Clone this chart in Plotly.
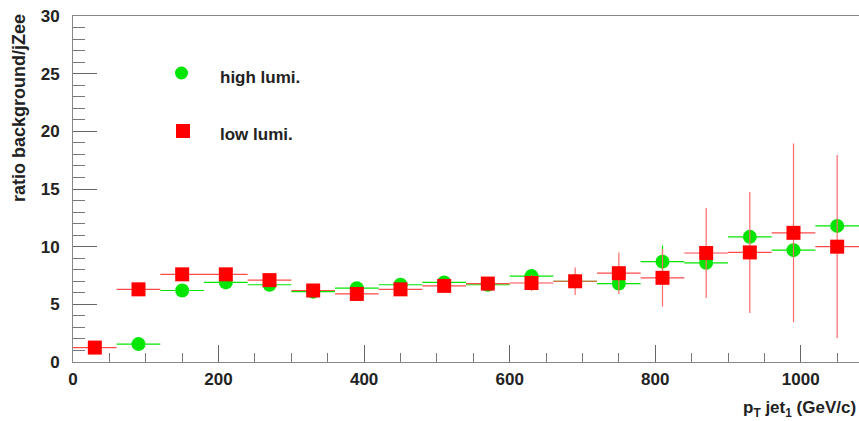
import plotly.graph_objects as go

# pT bin centres (GeV/c), 60 GeV wide bins
pt = [30, 90, 150, 210, 270, 330, 390, 450, 510, 570, 630, 690, 750, 810, 870, 930, 990, 1050]
half_bin = [30] * len(pt)

# high luminosity ratio
high_pt = pt[1:]
high_ratio = [1.55, 6.2, 6.9, 6.7, 6.1, 6.4, 6.7, 6.9, 6.7, 7.45, 7.0, 6.8, 8.7, 8.6, 10.85, 9.7, 11.8]
high_err = [0.2, 0.2, 0.3, 0.3, 0.2, 0.3, 0.3, 0.3, 0.3, 0.4, 0.4, 0.5, 1.4, 0.6, 0.6, 0.6, 0.6]

# low luminosity ratio
low_ratio = [1.25, 6.3, 7.6, 7.6, 7.1, 6.2, 5.9, 6.3, 6.6, 6.8, 6.85, 7.0, 7.7, 7.3, 9.45, 9.5, 11.2, 10.0]
low_err = [0.2, 0.2, 0.3, 0.3, 0.3, 0.2, 0.3, 0.3, 0.3, 0.3, 0.7, 1.2, 1.8, 2.5, 3.9, 5.25, 7.75, 7.95]

GREEN = "#00e600"
RED = "#ff0000"
FONT = "Liberation Sans"

fig = go.Figure()
fig.add_trace(go.Scatter(
    x=high_pt, y=high_ratio, mode="markers", name="high lumi.",
    marker=dict(symbol="circle", size=14, color=GREEN),
    error_x=dict(type="data", array=half_bin[1:], color=GREEN, thickness=1.2, width=0),
    error_y=dict(type="data", array=high_err, color=GREEN, thickness=1.2, width=0),
))
fig.add_trace(go.Scatter(
    x=pt, y=low_ratio, mode="markers", name="low lumi.",
    marker=dict(symbol="square", size=14, color=RED),
    error_x=dict(type="data", array=half_bin, color="#ff4a4a", thickness=1.2, width=0),
    error_y=dict(type="data", array=low_err, color="#ff6a6a", thickness=1.2, width=0),
))

axis_font = dict(family=FONT, size=17, color="#222222", weight="bold")
fig.update_xaxes(
    range=[0, 1080], showgrid=False, zeroline=False,
    showline=True, mirror=True, linecolor="#888888", linewidth=1,
    tickmode="array", tickvals=[0, 200, 400, 600, 800, 1000],
    ticks="inside", ticklen=17, tickcolor="#666666", tickfont=axis_font,
    ticklabelstandoff=2,
    minor=dict(dtick=50, tick0=0, ticks="inside", ticklen=9, tickcolor="#777777"),
)
fig.update_yaxes(
    range=[0, 30], showgrid=False, zeroline=False,
    showline=True, mirror=True, linecolor="#888888", linewidth=1,
    tickmode="array", tickvals=[0, 5, 10, 15, 20, 25, 30],
    ticks="inside", ticklen=24, tickcolor="#666666", tickfont=axis_font,
    ticklabelstandoff=9,
    minor=dict(dtick=1, tick0=0, ticks="inside", ticklen=12, tickcolor="#777777"),
)

# legend drawn as marker shapes with labels
fig.add_shape(type="circle", xref="paper", yref="paper",
              x0=(175 - 73) / 786, x1=(188 - 73) / 786,
              y0=(362 - 79.5) / 346, y1=(362 - 66.5) / 346,
              fillcolor=GREEN, line=dict(width=0))
fig.add_shape(type="rect", xref="paper", yref="paper",
              x0=(176 - 73) / 786, x1=(190 - 73) / 786,
              y0=(362 - 138) / 346, y1=(362 - 124) / 346,
              fillcolor=RED, line=dict(width=0))
legend_font = dict(family=FONT, size=17, color="#222222", weight="bold")
fig.add_annotation(text="high lumi.", xref="paper", yref="paper",
                   x=(218 - 73) / 786, y=(362 - 77) / 346,
                   xanchor="left", yanchor="middle", showarrow=False, font=legend_font)
fig.add_annotation(text="low lumi.", xref="paper", yref="paper",
                   x=(218 - 73) / 786, y=(362 - 134) / 346,
                   xanchor="left", yanchor="middle", showarrow=False, font=legend_font)

# axis titles
title_font = dict(family=FONT, size=18, color="#222222", weight="bold")
fig.add_annotation(text="ratio background/jZee", xref="paper", yref="paper",
                   x=(19 - 73) / 786, y=(362 - 12) / 346, textangle=-90,
                   xanchor="center", yanchor="top", showarrow=False, font=title_font)
fig.add_annotation(text="p<sub>T</sub> jet<sub>1</sub> (GeV/c)", xref="paper", yref="paper",
                   x=(858 - 73) / 786, y=-(409 - 362) / 346,
                   xanchor="right", yanchor="middle", showarrow=False,
                   font=dict(family=FONT, size=17, color="#222222", weight="bold"))

fig.update_layout(
    width=859, height=421,
    margin=dict(l=73, r=0, t=16, b=59),
    paper_bgcolor="white", plot_bgcolor="white",
    showlegend=False,
)

fig.write_html("out.html")
